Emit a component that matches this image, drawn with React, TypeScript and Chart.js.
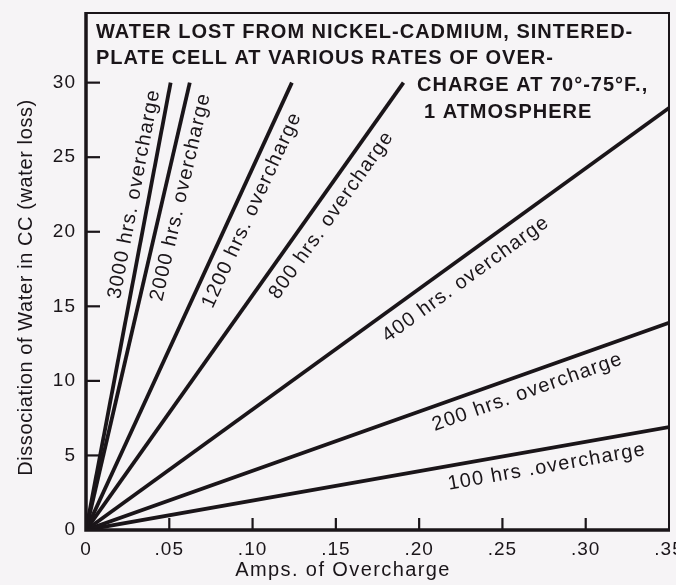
import React, { useEffect, useRef } from 'react';
import { Chart, registerables } from 'chart.js';

Chart.register(...registerables);

// ---- data ----
const seriesHours = ['3000', '2000', '1200', '800', '400', '200', '100'];
const seriesLabels = [
  '3000 hrs. overcharge',
  '2000 hrs. overcharge',
  '1200 hrs. overcharge',
  '800 hrs. overcharge',
  '400 hrs. overcharge',
  '200 hrs. overcharge',
  '100 hrs .overcharge',
];
const startAmps = [0, 0, 0, 0, 0, 0, 0];
const startWater = [0, 0, 0, 0, 0, 0, 0];
const endAmps = [0.0508, 0.0623, 0.1236, 0.1906, 0.35, 0.35, 0.35];
const endWater = [30, 30, 30, 30, 28.3, 13.9, 6.9];

const titleLines = [
  'WATER LOST FROM NICKEL-CADMIUM, SINTERED-',
  'PLATE CELL AT VARIOUS RATES OF OVER-',
  'CHARGE AT 70°-75°F.,',
  '1 ATMOSPHERE',
];
const xAxisTitle = 'Amps. of Overcharge';
const yAxisTitle = 'Dissociation of Water in CC (water loss)';
const yTickMax = 30;

// ---- layout / style ----
const W = 676;
const H = 585;
const BG = '#f6f4f6';
const INK = '#1a1519';
const FONT = '"Liberation Sans", Arial, Helvetica, sans-serif';
const labelAlong = [0.745, 0.753, 0.731, 0.727, 0.632, 0.747, 0.785];
const labelOffset = [15, -17, -17, -18, -19.5, -18, -18];
const titleX = [96, 96, 417, 424];
const titleY = [38, 64, 91, 118];

const decorPlugin = {
  id: 'decor',
  beforeUpdate(chart: any) {
    chart.ctx.letterSpacing = '1px';
  },
  beforeDraw(chart: any) {
    const ctx = chart.ctx;
    ctx.save();
    ctx.letterSpacing = '0px';
    ctx.fillStyle = BG;
    ctx.fillRect(0, 0, chart.width, chart.height);
    ctx.restore();
    ctx.letterSpacing = '1px';
  },
  afterDraw(chart: any) {
    const ctx = chart.ctx;
    const { left, right, top, bottom } = chart.chartArea;
    const xs = chart.scales.x;
    const ys = chart.scales.y;
    ctx.save();
    ctx.strokeStyle = INK;
    ctx.lineCap = 'butt';
    // inward tick marks
    ctx.lineWidth = 2.2;
    ys.ticks.forEach((t: any) => {
      if (t.value <= 0) return;
      const py = ys.getPixelForValue(t.value);
      ctx.beginPath();
      ctx.moveTo(left, py);
      ctx.lineTo(left + 14, py);
      ctx.stroke();
    });
    xs.ticks.forEach((t: any) => {
      if (t.value <= 0 || t.value >= xs.max - 1e-9) return;
      const px = xs.getPixelForValue(t.value);
      ctx.beginPath();
      ctx.moveTo(px, bottom);
      ctx.lineTo(px, bottom - 12);
      ctx.stroke();
    });
    // frame
    ctx.lineWidth = 2;
    ctx.beginPath();
    ctx.moveTo(left, top);
    ctx.lineTo(right, top);
    ctx.lineTo(right, bottom);
    ctx.stroke();
    ctx.lineWidth = 3.5;
    ctx.beginPath();
    ctx.moveTo(left, top - 1);
    ctx.lineTo(left, bottom);
    ctx.lineTo(right + 1, bottom);
    ctx.stroke();

    // title in box
    ctx.fillStyle = INK;
    ctx.font = `bold 20px ${FONT}`;
    ctx.letterSpacing = '1px';
    ctx.textAlign = 'left';
    ctx.textBaseline = 'alphabetic';
    titleLines.forEach((s, i) => ctx.fillText(s, titleX[i], titleY[i]));

    // axis titles
    ctx.font = `20px ${FONT}`;
    ctx.letterSpacing = '1.4px';
    ctx.textAlign = 'center';
    ctx.fillText(xAxisTitle, 343, 576);
    ctx.save();
    ctx.translate(26, 287.5);
    ctx.rotate(-Math.PI / 2);
    ctx.letterSpacing = '0.6px';
    ctx.textBaseline = 'middle';
    ctx.fillText(yAxisTitle, 0, 0);
    ctx.restore();

    // line labels
    ctx.font = `20px ${FONT}`;
    ctx.letterSpacing = '1.2px';
    ctx.textAlign = 'center';
    ctx.textBaseline = 'middle';
    seriesLabels.forEach((lab, i) => {
      const ox = xs.getPixelForValue(startAmps[i]);
      const oy = ys.getPixelForValue(startWater[i]);
      const ex = xs.getPixelForValue(endAmps[i]);
      const ey = ys.getPixelForValue(endWater[i]);
      const dx = ex - ox;
      const dy = ey - oy;
      const len = Math.hypot(dx, dy);
      const ux = dx / len;
      const uy = dy / len;
      const nx = uy;
      const ny = -ux;
      const px = ox + labelAlong[i] * dx + labelOffset[i] * nx;
      const py = oy + labelAlong[i] * dy + labelOffset[i] * ny;
      ctx.save();
      ctx.translate(px, py);
      ctx.rotate(Math.atan2(dy, dx));
      ctx.fillText(lab, 0, 0);
      ctx.restore();
    });
    ctx.restore();
  },
};

export default function App() {
  const ref = useRef<HTMLCanvasElement | null>(null);
  useEffect(() => {
    document.body.style.margin = '0';
    document.body.style.background = BG;
    const canvas = ref.current;
    if (!canvas) return;
    const chart = new Chart(canvas, {
      type: 'scatter',
      data: {
        datasets: seriesHours.map((h, i) => ({
          label: seriesLabels[i],
          data: [
            { x: startAmps[i], y: startWater[i] },
            { x: endAmps[i], y: endWater[i] },
          ],
          showLine: true,
          borderColor: INK,
          backgroundColor: INK,
          borderWidth: 3.8,
          pointRadius: 0,
          fill: false,
        })),
      },
      options: {
        animation: false,
        responsive: false,
        maintainAspectRatio: false,
        devicePixelRatio: 1,
        layout: { padding: { top: 13, right: 7, left: 0, bottom: 0 } },
        plugins: {
          legend: { display: false },
          title: { display: false },
          tooltip: { enabled: false },
        },
        scales: {
          x: {
            type: 'linear',
            min: 0,
            max: 0.35,
            grid: { display: false, drawTicks: false },
            border: { display: false },
            ticks: {
              stepSize: 0.05,
              color: INK,
              padding: 8,
              maxRotation: 0,
              font: { family: FONT, size: 19 },
              callback: (v: any) => {
                const n = Number(v);
                if (Math.abs(n) < 1e-9) return '0';
                return '.' + String(Math.round(n * 100)).padStart(2, '0');
              },
            },
            afterFit: (s: any) => {
              s.height = 55;
              s.paddingLeft = 0;
              s.paddingRight = 0;
            },
          },
          y: {
            type: 'linear',
            min: 0,
            max: 34.67,
            grid: { display: false, drawTicks: false },
            border: { display: false },
            ticks: {
              stepSize: 5,
              color: INK,
              padding: 10,
              font: { family: FONT, size: 19 },
            },
            afterBuildTicks: (s: any) => {
              s.ticks = s.ticks.filter((t: any) => t.value <= yTickMax + 1e-9);
            },
            afterFit: (s: any) => {
              s.width = 86;
              s.paddingTop = 0;
              s.paddingBottom = 0;
            },
          },
        },
      },
      plugins: [decorPlugin],
    } as any);
    return () => chart.destroy();
  }, []);
  return (
    <div style={{ width: W, height: H, background: BG }}>
      <canvas ref={ref} width={W} height={H} style={{ display: 'block' }} />
    </div>
  );
}
